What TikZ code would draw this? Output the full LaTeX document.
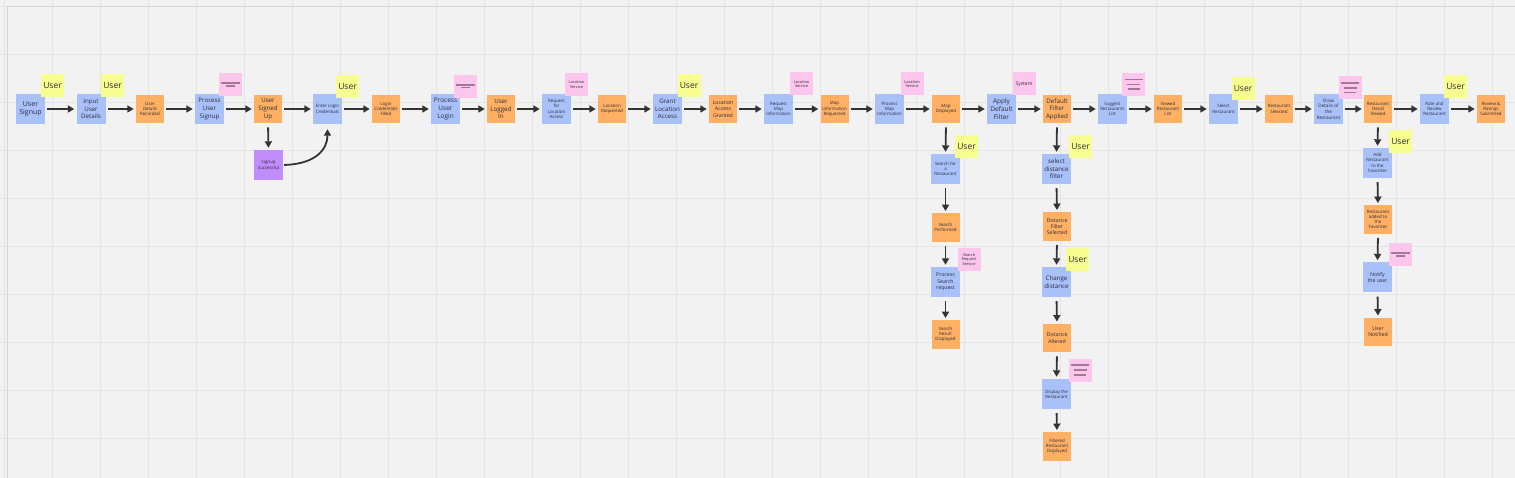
\documentclass[tikz,border=0pt]{standalone}
\usepackage{fontspec}
\setmainfont{Open Sans}
\usetikzlibrary{arrows.meta}
\definecolor{bg}{HTML}{F2F2F2}
\definecolor{gridc}{HTML}{E5E5E5}
\definecolor{framec}{HTML}{D6D6D6}
\definecolor{bblue}{HTML}{A9C1F9}
\definecolor{borange}{HTML}{FFB062}
\definecolor{bpurple}{HTML}{C18DFA}
\definecolor{syellow}{HTML}{F7FD8E}
\definecolor{spink}{HTML}{FDC6EC}
\definecolor{pline}{HTML}{A07A95}
\definecolor{ink}{HTML}{333333}
\definecolor{txt}{HTML}{2C2C3A}
\newcommand\fA{\fontsize{6.2}{7.6}\selectfont}
\newcommand\fB{\fontsize{4.4}{5.3}\selectfont}
\newcommand\fC{\fontsize{5.2}{6.3}\selectfont}
\newcommand\pinktwo[1]{%
  \draw[pline,line width=1.6pt] ([shift={(-9.5,-1.7)}]#1.center) -- ++(19,0);
  \draw[pline,line width=1.6pt] ([shift={(-4.5,1.2)}]#1.center) -- ++(9,0);}
\newcommand\pinkthree[1]{%
  \draw[pline,line width=1.6pt] ([shift={(-9,-5)}]#1.center) -- ++(18,0);
  \draw[pline,line width=1.6pt] ([shift={(-6.5,0)}]#1.center) -- ++(13,0);
  \draw[pline,line width=1.6pt] ([shift={(-6,4.7)}]#1.center) -- ++(12,0);}
\tikzset{
  box/.style={inner sep=0pt, align=center, text=txt, font=\fB},
  bluebox/.style={box, fill=bblue, minimum width=29pt, minimum height=30pt},
  orangebox/.style={box, fill=borange, minimum width=28pt, minimum height=28.5pt},
  purplebox/.style={box, fill=bpurple, minimum width=29pt, minimum height=30pt},
  sticky/.style={inner sep=0pt, align=center, text=txt, minimum width=23pt, minimum height=23pt},
  ynote/.style={sticky, fill=syellow, font=\fontsize{8.5}{9}\selectfont},
  pnote/.style={sticky, fill=spink, font=\fontsize{3.9}{4.7}\selectfont},
  flow/.style={draw=ink, line width=1.8pt, -{Triangle[length=6.5pt,width=7pt]}, shorten <=2pt, shorten >=2pt},
  vflow/.style={flow, shorten <=4pt},
  gridline/.style={draw=gridc, line width=1.2pt},
  frameline/.style={draw=framec, line width=1.4pt},
}
\begin{document}
\begin{tikzpicture}[x=1pt,y=-1pt]
\useasboundingbox[fill=bg] (0,0) rectangle (1515,478);
% grid
\foreach \i in {0,...,31} {\draw[gridline] ({4.3+48*\i},0) -- ({4.3+48*\i},478);}
\foreach \j in {1,...,9} {\draw[gridline] (0,{6.3+48*\j}) -- (1515,{6.3+48*\j});}
\draw[gridline] (0,6.3) -- (7.3,6.3);
\draw[frameline] (7.3,6.3) -- (1515,6.3);
\draw[frameline] (7.3,6.3) -- (7.3,478);

% main row
\node[bluebox, font=\fontsize{7}{8.4}\selectfont] (n1) at (30.5,109) {User\\Signup};
\node[bluebox, font=\fA] (n2) at (91,109) {Input\\User\\Details};
\node[orangebox] (n3) at (150,109) {User\\Details\\Recorded};
\node[bluebox, font=\fA] (n4) at (209.5,109) {Process\\User\\Signup};
\node[orangebox, font=\fA] (n5) at (268,109) {User\\Signed\\Up};
\node[bluebox] (n6) at (327.5,109) {Enter Login\\Credentials};
\node[orangebox] (n7) at (386,109) {Login\\Credentials\\Filled};
\node[bluebox, font=\fontsize{6.5}{8}\selectfont] (n8) at (445.5,109) {Process\\User\\Login};
\node[orangebox, font=\fA] (n9) at (501,109) {User\\Logged\\In};
\node[bluebox] (n10) at (556.5,109) {Request\\for\\Location\\Access};
\node[orangebox] (n11) at (612,109) {Location\\Requested};
\node[bluebox, font=\fA] (n12) at (667.5,109) {Grant\\Location\\Access};
\node[orangebox, font=\fC] (n13) at (723,109) {Location\\Access\\Granted};
\node[bluebox] (n14) at (778.5,109) {Request\\Map\\Information};
\node[orangebox] (n15) at (834.5,109) {Map\\Information\\Requested};
\node[bluebox] (n16) at (889.5,109) {Process\\Map\\Information};
\node[orangebox] (n17) at (946,109) {Map\\Displayed};
\node[bluebox, font=\fontsize{6.5}{8}\selectfont] (n18) at (1001.5,109) {Apply\\Default\\Filter};
\node[orangebox, font=\fA] (n19) at (1057,109) {Default\\Filter\\Applied};
\node[bluebox] (n20) at (1112.5,109) {Suggest\\Restaurants\\List};
\node[orangebox] (n21) at (1168,109) {Viewed\\Restaurant\\List};
\node[bluebox] (n22) at (1223.5,109) {Select\\Restaurant};
\node[orangebox] (n23) at (1279,109) {Restaurant\\Selected};
\node[bluebox, font=\fontsize{4.6}{5.6}\selectfont] (n24) at (1328.5,109) {Show\\Details of\\the\\Restaurant};
\node[orangebox] (n25) at (1378,109) {Restaurant\\Detail\\Viewed};
\node[bluebox] (n26) at (1434.5,109) {Rate and\\Review\\Restaurant};
\node[orangebox] (n27) at (1491,109) {Review \&\\Ratings\\Submitted};

% branch: signup
\node[purplebox] (ss) at (268.5,165) {Signup\\Successful};
% branch: search
\node[bluebox] (s1) at (945.5,169) {Search for\\a\\Restaurant};
\node[orangebox] (s2) at (945.5,227.5) {Search\\Performed};
\node[bluebox, font=\fC] (s3) at (945.5,282) {Process\\Search\\request};
\node[orangebox] (s4) at (945.5,334.5) {Search\\Result\\Displayed};
% branch: distance
\node[bluebox, font=\fA] (d1) at (1056.5,169) {select\\distance\\filter};
\node[orangebox, font=\fC] (d2) at (1057,226.5) {Distance\\Filter\\Selected};
\node[bluebox, font=\fA] (d3) at (1056.5,282) {Change\\distance};
\node[orangebox, font=\fC] (d4) at (1057,338) {Distance\\Altered};
\node[bluebox] (d5) at (1056.5,394) {Display the\\Restaurant};
\node[orangebox] (d6) at (1057,446.5) {Filtered\\Restaurant\\Displayed};
% branch: favorites
\node[bluebox] (f1) at (1377.5,163) {Add\\Restaurant\\to the\\Favorites};
\node[orangebox] (f2) at (1378,219.5) {Restaurant\\added to\\the\\Favorites};
\node[bluebox, font=\fC] (f3) at (1377.5,277.5) {Notify\\the user};
\node[orangebox, font=\fC] (f4) at (1378,332) {User\\Notified};

% main row connectors
\foreach \a/\b in {n1/n2,n2/n3,n3/n4,n4/n5,n5/n6,n6/n7,n7/n8,n8/n9,n9/n10,n10/n11,n11/n12,n12/n13,n13/n14,n14/n15,n15/n16,n16/n17,n17/n18,n18/n19,n19/n20,n20/n21,n21/n22,n22/n23,n23/n24,n24/n25,n25/n26,n26/n27}
  {\draw[flow] (\a.east) -- (\b.west);}
% vertical connectors
\foreach \a/\b in {n5/ss,n17/s1,s1/s2,s2/s3,s3/s4,n19/d1,d1/d2,d2/d3,d3/d4,d4/d5,d5/d6,n25/f1,f1/f2,f2/f3,f3/f4}
  {\draw[vflow] (\a.south) -- (\b.north);}
% curved connector
\draw[flow, shorten <=1pt, shorten >=5pt] (ss.east) .. controls +(34,-1) and +(0,24) .. (n6.south);

% sticky notes
\node[ynote] (y1) at (52.5,85.5) {User};
\node[ynote] (y2) at (112.5,85.5) {User};
\node[pnote] (p1) at (230,85) {};
\pinktwo{p1}
\node[ynote] (y3) at (347.5,86.5) {User};
\node[pnote] (p2) at (465.5,86.5) {};
\pinktwo{p2}
\node[pnote] (p3) at (576.5,84.5) {Location\\Service};
\node[ynote] (y4) at (689,85.5) {User};
\node[pnote] (p4) at (801.5,84) {Location\\Service};
\node[pnote] (p5) at (912,84) {Location\\Service};
\node[pnote, font=\fontsize{5}{6}\selectfont] (p6) at (1024,84) {System};
\node[pnote] (p7) at (1133.5,84.5) {};
\pinkthree{p7}
\node[ynote] (y5) at (1243,88.5) {User};
\node[pnote] (p8) at (1350,88) {};
\pinkthree{p8}
\node[ynote] (y6) at (1455.5,87) {User};

\node[ynote] (ys1) at (966.5,146.5) {User};
\node[pnote] (ps) at (969,259.5) {Search\\Request\\Service};
\node[ynote] (yd1) at (1080.5,146.5) {User};
\node[ynote] (yd2) at (1077.5,259.5) {User};
\node[pnote] (pd) at (1080,370) {};
\pinkthree{pd}
\node[ynote] (yf1) at (1400.5,141.5) {User};
\node[pnote] (pf) at (1400.5,255) {};
\pinktwo{pf}
\end{tikzpicture}
\end{document}
